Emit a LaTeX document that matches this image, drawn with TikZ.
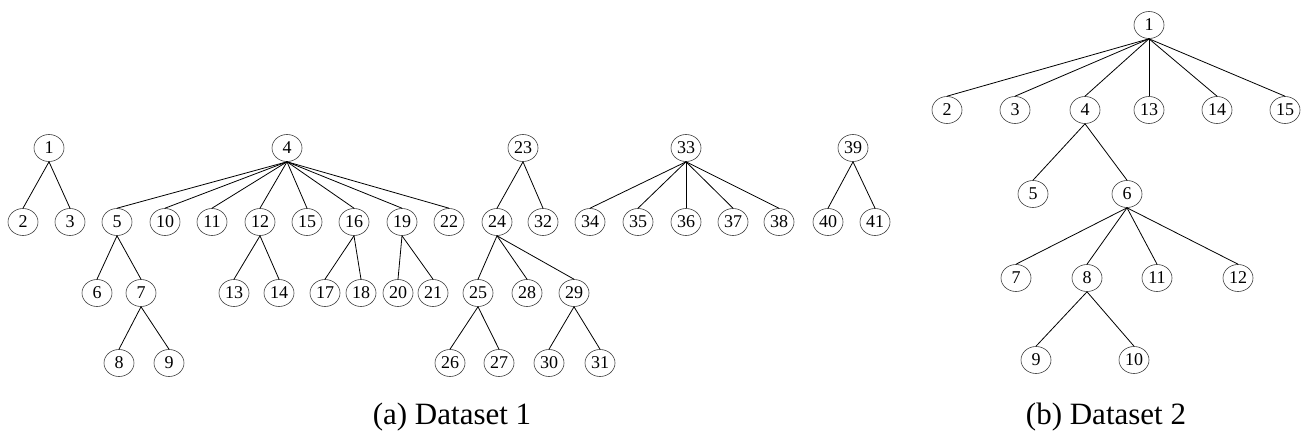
\documentclass[tikz,border=0pt]{standalone}
\usepackage{fontspec}
\setmainfont{Liberation Serif}
\usetikzlibrary{shapes.geometric}
\begin{document}
\begin{tikzpicture}[x=1pt,y=-1pt,
  tn/.style={ellipse,draw=black!75,line width=0.6pt,minimum width=30pt,minimum height=27pt,inner sep=0pt,font=\fontsize{18}{18}\selectfont},
  ed/.style={draw=black,line width=0.8pt},
  captext/.style={font=\fontsize{31}{31}\selectfont}]
\useasboundingbox (0,0) rectangle (1308,439);
% Dataset 1
\foreach \n/\x/\y in {1/49/148,2/23/222,3/70/222,
  4/287/148,5/117/222,10/165/222,11/212/222,12/260/222,15/307/222,16/354/222,19/402/222,22/449/222,
  6/97/293,7/141/293,8/119/363,9/169/363,13/234/293,14/279/293,
  17/325/293,18/361/293,20/398/293,21/433/293,
  23/523/148,24/497/222,32/543/222,25/478/293,28/527/293,29/574/293,
  26/450/363,27/499/363,30/549/363,31/600/363,
  33/686/148,34/590/222,35/638/222,36/686/222,37/733/222,38/779/222,
  39/853/148,40/828/222,41/875/222}
  \node[tn] (a\n) at (\x,\y) {\n};
\foreach \p/\c in {1/2,1/3,4/5,4/10,4/11,4/12,4/15,4/16,4/19,4/22,
  5/6,5/7,7/8,7/9,12/13,12/14,16/17,16/18,19/20,19/21,
  23/24,23/32,24/25,24/28,24/29,25/26,25/27,29/30,29/31,
  33/34,33/35,33/36,33/37,33/38,39/40,39/41}
  \draw[ed] (a\p.south) -- (a\c.north);
% Dataset 2
\foreach \n/\x/\y in {1/1149/25,2/947/110,3/1015/110,4/1085/110,13/1149/110,14/1217/110,15/1285/110,
  5/1033/194,6/1127/194,7/1016/278,8/1087/278,11/1157/278,12/1238/278,
  9/1036/360,10/1134/360}
  \node[tn] (b\n) at (\x,\y) {\n};
\foreach \p/\c in {1/2,1/3,1/4,1/13,1/14,1/15,4/5,4/6,6/7,6/8,6/11,6/12,8/9,8/10}
  \draw[ed] (b\p.south) -- (b\c.north);
\node[captext] (capa) at (452,417) {(a) Dataset 1};
\node[captext] (capb) at (1106,417) {(b) Dataset 2};
\end{tikzpicture}
\end{document}
